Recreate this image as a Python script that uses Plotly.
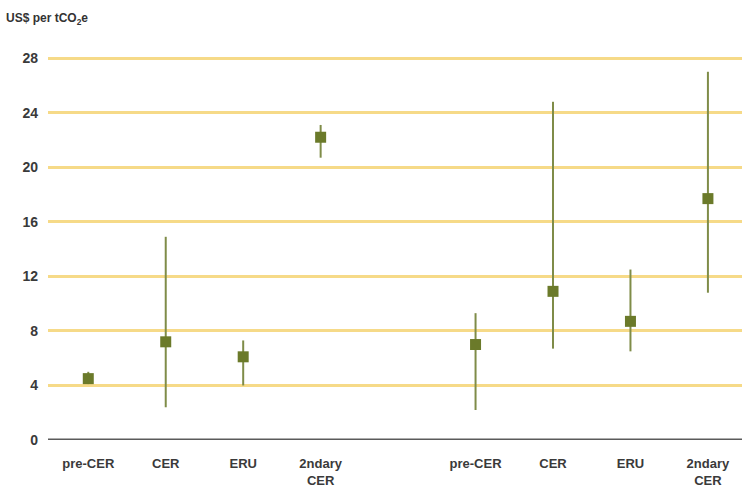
import plotly.graph_objects as go

# Price ranges (US$ per tCO2e), two groups of four instruments
positions = [0, 1, 2, 3, 5, 6, 7, 8]
labels = ["pre-CER", "CER", "ERU", "2ndary<br>CER",
          "pre-CER", "CER", "ERU", "2ndary<br>CER"]
mid_price = [4.5, 7.2, 6.1, 22.2, 7.0, 10.9, 8.7, 17.7]
high_price = [5.0, 14.9, 7.3, 23.1, 9.3, 24.8, 12.5, 27.0]
low_price = [4.1, 2.4, 4.0, 20.7, 2.2, 6.7, 6.5, 10.8]
y_ticks = [0, 4, 8, 12, 16, 20, 24, 28]

err_up = [h - m for h, m in zip(high_price, mid_price)]
err_down = [m - l for m, l in zip(mid_price, low_price)]

fig = go.Figure()
fig.add_trace(go.Scatter(
    x=positions, y=mid_price, mode="markers",
    marker=dict(symbol="square", size=11, color="#6b7a2a"),
    error_y=dict(type="data", symmetric=False, array=err_up, arrayminus=err_down,
                 color="#7f8c48", thickness=2, width=0),
    showlegend=False, hoverinfo="skip",
))

font = dict(family="Liberation Sans, Arial, sans-serif", color="#3a3a3a", size=14, weight="bold")

fig.update_layout(
    width=742, height=494,
    margin=dict(l=48, r=0, t=40, b=54),
    paper_bgcolor="white", plot_bgcolor="white",
    xaxis=dict(range=[-0.52, 8.44], tickvals=positions, ticktext=labels,
               showgrid=False, zeroline=False, showline=False,
               tickfont=dict(font, size=13), ticks="", ticklen=0,
               ticklabelstandoff=14),
    yaxis=dict(range=[0, 29.33], tickvals=y_ticks, showgrid=True,
               gridcolor="#f6da88", gridwidth=3, zeroline=False,
               showline=False, tickfont=font, ticks="", ticklabelstandoff=9),
    annotations=[dict(text="US$ per tCO<sub>2</sub>e", xref="paper", yref="paper",
                      x=-44/694, y=(494 - 54 - 19) / 400, xanchor="left", yanchor="middle",
                      showarrow=False, font=dict(font, size=12, color="#333333"))],
    shapes=[dict(type="line", xref="paper", yref="y", x0=0, x1=1, y0=0, y1=0,
                 line=dict(color="#5a5a5a", width=3))],
)

fig.write_html("out.html")
